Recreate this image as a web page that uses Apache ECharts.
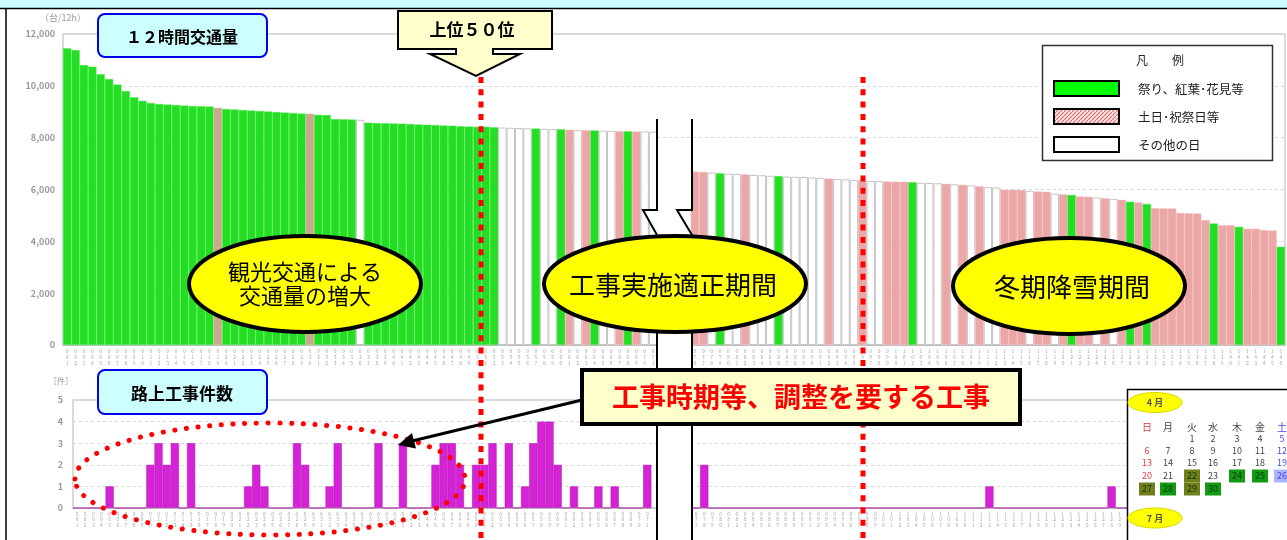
<!DOCTYPE html>
<html>
<head>
<meta charset="utf-8">
<style>
  html, body { margin: 0; padding: 0; background: #fff; }
  #chart { width: 1287px; height: 540px; }
</style>
<script src="https://cdn.jsdelivr.net/npm/echarts@6/dist/echarts.min.js"></script>
</head>
<body>
<div id="chart"></div>
<script>
// 12時間交通量（台/12h） 上位から順。左＝上位71日、右＝省略後の71日
const trafficLeft = [
  11450, 11380, 10800, 10740, 10450, 10260, 10050, 9800, 9560, 9420,
  9340, 9300, 9280, 9260, 9240, 9220, 9210, 9200, 9150, 9110,
  9090, 9070, 9050, 9030, 9010, 8990, 8970, 8950, 8930, 8920,
  8880, 8870, 8720, 8710, 8700, 8690, 8580, 8570, 8560, 8550,
  8540, 8530, 8510, 8500, 8490, 8470, 8460, 8440, 8430, 8420,
  8420, 8400, 8390, 8380, 8370, 8360, 8350, 8340, 8330, 8320,
  8310, 8300, 8290, 8280, 8270, 8260, 8250, 8250, 8240, 8240,
  8230
]
const trafficRight = [
  6690, 6680, 6650, 6630, 6610, 6600, 6580, 6560, 6550, 6530,
  6520, 6500, 6490, 6480, 6460, 6450, 6420, 6400, 6390, 6370,
  6350, 6330, 6320, 6310, 6300, 6300, 6280, 6260, 6250, 6240,
  6220, 6200, 6180, 6160, 6130, 6090, 6080, 5990, 5990, 5980,
  5950, 5920, 5910, 5840, 5810, 5790, 5730, 5720, 5690, 5660,
  5630, 5600, 5530, 5500, 5440, 5280, 5270, 5270, 5090, 5080,
  5070, 4820, 4690, 4620, 4620, 4560, 4490, 4490, 4430, 4420,
  3790
]
// G=祭り、紅葉･花見等  H=土日･祝祭日等  W=その他の日  T=重複
const typeLeft = 'GGGGGGGGGG GGGGGGGGTG GGGGGGGGGT GGGGGWGGGG GGGGGGGGGG GGWWWWGWWG HWHGWWHGHW W'.replace(/ /g, '').split('')
const typeRight = 'HHWGWWHWWW GWWWWWHWWW HWWHHHGWWW HWHWHWWHHH WHHWHGHHWH WHGHGHHHHH HHGHHGHHHH G'.replace(/ /g, '').split('')
const gapCount = 4

// 路上工事件数（件）
const worksCount = [
  0, 0, 0, 0, 1, 0, 0, 0, 0, 2,
  3, 2, 3, 0, 3, 0, 0, 0, 0, 0,
  0, 1, 2, 1, 0, 0, 0, 3, 2, 0,
  0, 1, 3, 0, 0, 0, 0, 3, 0, 0,
  3, 0, 0, 0, 2, 3, 3, 2, 0, 2,
  2, 3, 0, 3, 0, 1, 3, 4, 4, 2,
  0, 1, 0, 0, 1, 0, 1, 0, 0, 0,
  2, null, null, null, null, 0, 0, 2, 0, 0,
  0, 0, 0, 0, 0, 0, 0, 0, 0, 0,
  0, 0, 0, 0, 0, 0, 0, 0, 0, 0,
  0, 0, 0, 0, 0, 0, 0, 0, 0, 0,
  0, 0, 1, 0, 0, 0, 0, 0, 0, 0,
  0, 0, 0, 0, 0, 0, 0, 1, 0, 0,
  0, 0, 0, 0, 0, 0, 0, 0, 0, 0,
  0, 0, 0, 0, 0, 0, 0, 0, 0
]

const legendNames = ['祭り、紅葉･花見等', '土日･祝祭日等', 'その他の日']
const aprilHighlight = { 22: 'olive', 24: 'green', 25: 'green', 26: 'blue', 27: 'olive', 28: 'green', 29: 'olive', 30: 'green' }

const JP = '"Noto Sans CJK JP", "Noto Sans", sans-serif'

const dayStyle = {
  G: { color: '#24de24', borderColor: '#5ae85a', borderWidth: 0.5 },
  H: { color: '#eba6a6', borderColor: '#f1baba', borderWidth: 0.5 },
  W: { color: '#ffffff', borderColor: '#c4c4c4', borderWidth: 1 },
  T: { color: '#c9a98a', borderColor: '#d5b99e', borderWidth: 0.5 },
}

const gap = new Array(gapCount).fill(null)
const trafficValues = trafficLeft.concat(gap, trafficRight)
const trafficTypes = typeLeft.concat(gap, typeRight)
const trafficData = trafficValues.map((v, i) => (v == null ? null : { value: v, itemStyle: dayStyle[trafficTypes[i]] }))
const catsOf = (arr) => arr.map((v, i) => (v == null ? '' : String(i + 1).padStart(3, '0')))
const stacked = (v) => v.split('').join('\n')

const hatch = function () {
  const c = document.createElement('canvas')
  c.width = 4
  c.height = 4
  const g = c.getContext('2d')
  g.fillStyle = '#fbe3e3'
  g.fillRect(0, 0, 4, 4)
  g.strokeStyle = '#e07070'
  g.lineWidth = 1.2
  g.beginPath()
  g.moveTo(-1, 5)
  g.lineTo(5, -1)
  g.stroke()
  return { image: c, repeat: 'repeat' }
}

const txt = (x, y, text, font, fill, align, extra) => ({
  type: 'text',
  z: 100,
  x: x,
  y: y,
  style: Object.assign({ text: text, font: font, fill: fill || '#000', textAlign: align || 'center', textVerticalAlign: 'middle' }, extra || {}),
})

const graphics = []

// header band and frame
graphics.push({ type: 'rect', z: 100, shape: { x: 0, y: 0, width: 1287, height: 8 }, style: { fill: '#ccffff' } })
graphics.push({ type: 'line', z: 100, shape: { x1: 0, y1: 8.5, x2: 1287, y2: 8.5 }, style: { stroke: '#000', lineWidth: 1.5 } })
graphics.push({ type: 'line', z: 100, shape: { x1: 6, y1: 8, x2: 6, y2: 540 }, style: { stroke: '#000', lineWidth: 1.5 } })

// break (omitted middle section)
graphics.push({
  type: 'polygon', z: 100,
  shape: { points: [[657, 150], [692, 150], [692, 210], [677, 210], [692, 235], [692, 540], [657, 540], [657, 235], [643, 210], [657, 210]] },
  style: { fill: '#fff' },
})
graphics.push({ type: 'polyline', z: 100, shape: { points: [[657, 119], [657, 210], [643, 210], [657, 235], [657, 540]] }, style: { stroke: '#000', lineWidth: 2, fill: null } })
graphics.push({ type: 'polyline', z: 100, shape: { points: [[692, 119], [692, 210], [677, 210], [692, 235], [692, 540]] }, style: { stroke: '#000', lineWidth: 2, fill: null } })

// red dotted period lines
;[481, 863].forEach((x) => {
  graphics.push({ type: 'line', z: 100, shape: { x1: x, y1: 77, x2: x, y2: 540 }, style: { stroke: '#ff0000', lineWidth: 5, lineDash: [6, 6.3] } })
})

// dotted ellipse + arrow
graphics.push({ type: 'ellipse', z: 100, shape: { cx: 270, cy: 479, rx: 195, ry: 56 }, style: { fill: null, stroke: '#ff0000', lineWidth: 5, lineDash: [0.1, 11.6], lineCap: 'round' } })
graphics.push({ type: 'line', z: 100, shape: { x1: 582, y1: 400, x2: 412, y2: 441 }, style: { stroke: '#000', lineWidth: 3 } })
graphics.push({ type: 'polygon', z: 100, shape: { points: [[398, 445], [416, 448.5], [412, 433]] }, style: { fill: '#000' } })

// title boxes
graphics.push({ type: 'rect', z: 100, shape: { x: 98, y: 14, width: 169, height: 43, r: 7 }, style: { fill: '#ccffff', stroke: '#0000ee', lineWidth: 2 } })
graphics.push(txt(182, 37, '１２時間交通量', 'bold 16px ' + JP, '#000'))
graphics.push({ type: 'rect', z: 100, shape: { x: 98, y: 370, width: 169, height: 44, r: 7 }, style: { fill: '#ccffff', stroke: '#0000ee', lineWidth: 2 } })
graphics.push(txt(182, 394, '路上工事件数', 'bold 17px ' + JP, '#000'))

// 上位50位 callout
graphics.push({
  type: 'polygon', z: 100,
  shape: { points: [[398, 11], [552, 11], [552, 49], [493, 49], [493, 54], [520, 54], [476, 76], [430, 54], [456, 54], [456, 49], [398, 49]] },
  style: { fill: '#ffffcc', stroke: '#000', lineWidth: 2 },
})
graphics.push(txt(472, 30, '上位５０位', 'bold 17px ' + JP, '#000'))

// period ellipses
graphics.push({ type: 'ellipse', z: 100, shape: { cx: 305, cy: 284, rx: 116, ry: 48 }, style: { fill: '#ffff00', stroke: '#000', lineWidth: 4 } })
graphics.push(txt(305, 284, '観光交通による\n交通量の増大', '22px ' + JP, '#000', 'center', { lineHeight: 24 }))
graphics.push({ type: 'ellipse', z: 100, shape: { cx: 675, cy: 284, rx: 131, ry: 48 }, style: { fill: '#ffff00', stroke: '#000', lineWidth: 4 } })
graphics.push(txt(673, 285, '工事実施適正期間', '26px ' + JP, '#000'))
graphics.push({ type: 'ellipse', z: 100, shape: { cx: 1069, cy: 286, rx: 116, ry: 48 }, style: { fill: '#ffff00', stroke: '#000', lineWidth: 4 } })
graphics.push(txt(1072, 287, '冬期降雪期間', '26px ' + JP, '#000'))

// legend
graphics.push({ type: 'rect', z: 100, shape: { x: 1042.5, y: 45.5, width: 230, height: 115 }, style: { fill: '#fff', stroke: '#333', lineWidth: 1.5 } })
graphics.push(txt(1160, 60, '凡　　例', '12px ' + JP, '#222'))
const swatchFill = ['#00ff00', hatch(), '#ffffff']
legendNames.forEach((name, k) => {
  const y = 81 + k * 28
  graphics.push({ type: 'rect', z: 100, shape: { x: 1054, y: y, width: 65, height: 15 }, style: { fill: swatchFill[k], stroke: '#000', lineWidth: 2 } })
  graphics.push(txt(1138, y + 8, name, '12.5px ' + JP, '#222', 'left'))
})

// construction callout
graphics.push({ type: 'rect', z: 100, shape: { x: 582, y: 370, width: 438, height: 54 }, style: { fill: '#ffffcc', stroke: '#000', lineWidth: 4 } })
graphics.push(txt(801, 397, '工事時期等、調整を要する工事', 'bold 27px ' + JP, '#ff0000'))

// calendar panel (April)
graphics.push({ type: 'rect', z: 100, shape: { x: 1127.5, y: 389.5, width: 200, height: 200 }, style: { fill: '#fff', stroke: '#000', lineWidth: 1.5 } })
graphics.push({ type: 'ellipse', z: 100, shape: { cx: 1155, cy: 402.5, rx: 27, ry: 10 }, style: { fill: '#ffff00', stroke: '#d8d800', lineWidth: 1 } })
graphics.push(txt(1155, 403, '4 月', 'bold 9px ' + JP, '#555'))
graphics.push({ type: 'ellipse', z: 100, shape: { cx: 1155, cy: 518, rx: 27, ry: 10 }, style: { fill: '#ffff00', stroke: '#d8d800', lineWidth: 1 } })
graphics.push(txt(1155, 519, '7 月', 'bold 9px ' + JP, '#555'))
const calX = [1147, 1168, 1192, 1213, 1237, 1260, 1282]
const calY = [439, 451, 463, 476, 489]
const calColor = (col) => (col === 0 ? '#e03a3a' : col === 6 ? '#4848e8' : '#444')
;['日', '月', '火', '水', '木', '金', '土'].forEach((w, col) => {
  graphics.push(txt(calX[col], 427, w, '10px ' + JP, calColor(col)))
})
const cellBg = { green: '#139a13', olive: '#6f7f1c', blue: '#aab4ff' }
for (let d = 1; d <= 30; d++) {
  const idx = d + 1
  const row = Math.floor(idx / 7)
  const col = idx % 7
  const hl = aprilHighlight[d]
  if (hl) {
    graphics.push({ type: 'rect', z: 100, shape: { x: calX[col] - 8, y: calY[row] - 6.5, width: 16, height: 13 }, style: { fill: cellBg[hl] } })
  }
  graphics.push(txt(calX[col], calY[row], String(d), '9px ' + JP, hl && hl !== 'blue' ? '#0a3a0a' : calColor(col)))
}

const option = {
  animation: false,
  textStyle: { fontFamily: JP },
  grid: [
    { left: 63, top: 34, width: 1222, height: 311, show: true, borderColor: '#cfcfcf', borderWidth: 1.5 },
    { left: 73, top: 400, width: 1222, height: 108, show: true, borderColor: '#cfcfcf', borderWidth: 1.5 },
  ],
  xAxis: [
    {
      type: 'category', gridIndex: 0, data: catsOf(trafficValues),
      axisTick: { show: false }, axisLine: { lineStyle: { color: '#c0c0c0' } },
      axisLabel: { interval: 0, fontSize: 5, lineHeight: 6, color: '#a6a6a6', margin: 3, formatter: stacked },
    },
    {
      type: 'category', gridIndex: 1, data: catsOf(worksCount),
      axisTick: { show: false }, axisLine: { lineStyle: { color: '#c0c0c0' } },
      axisLabel: { interval: 0, fontSize: 5, lineHeight: 5.5, color: '#a6a6a6', margin: 3, formatter: stacked },
    },
  ],
  yAxis: [
    {
      type: 'value', gridIndex: 0, min: 0, max: 12000, interval: 2000,
      name: '（台/12h）', nameGap: 12, nameTextStyle: { fontSize: 9, color: '#999' },
      axisLine: { show: false }, axisTick: { show: false },
      axisLabel: { fontSize: 9, color: '#999', fontWeight: 'bold', margin: 8 },
      splitLine: { lineStyle: { color: '#d9d9d9', type: [3, 3] } },
    },
    {
      type: 'value', gridIndex: 1, min: 0, max: 5, interval: 1,
      name: '［件］', nameGap: 15, nameTextStyle: { fontSize: 8, color: '#999', align: 'right' },
      axisLine: { show: false }, axisTick: { show: false },
      axisLabel: { fontSize: 9, color: '#999', fontWeight: 'bold', margin: 10 },
      splitLine: { lineStyle: { color: '#d9d9d9', type: [3, 3] } },
    },
  ],
  series: [
    { type: 'bar', xAxisIndex: 0, yAxisIndex: 0, data: trafficData, barCategoryGap: '0%', silent: true },
    {
      type: 'bar', xAxisIndex: 1, yAxisIndex: 1, data: worksCount, barCategoryGap: '0%', silent: true,
      itemStyle: { color: '#d622d6', borderColor: '#b01cb0', borderWidth: 0.6 },
    },
  ],
  graphic: { elements: graphics },
}

const chart = echarts.init(document.getElementById('chart'))
chart.setOption(option)
</script>
</body>
</html>
